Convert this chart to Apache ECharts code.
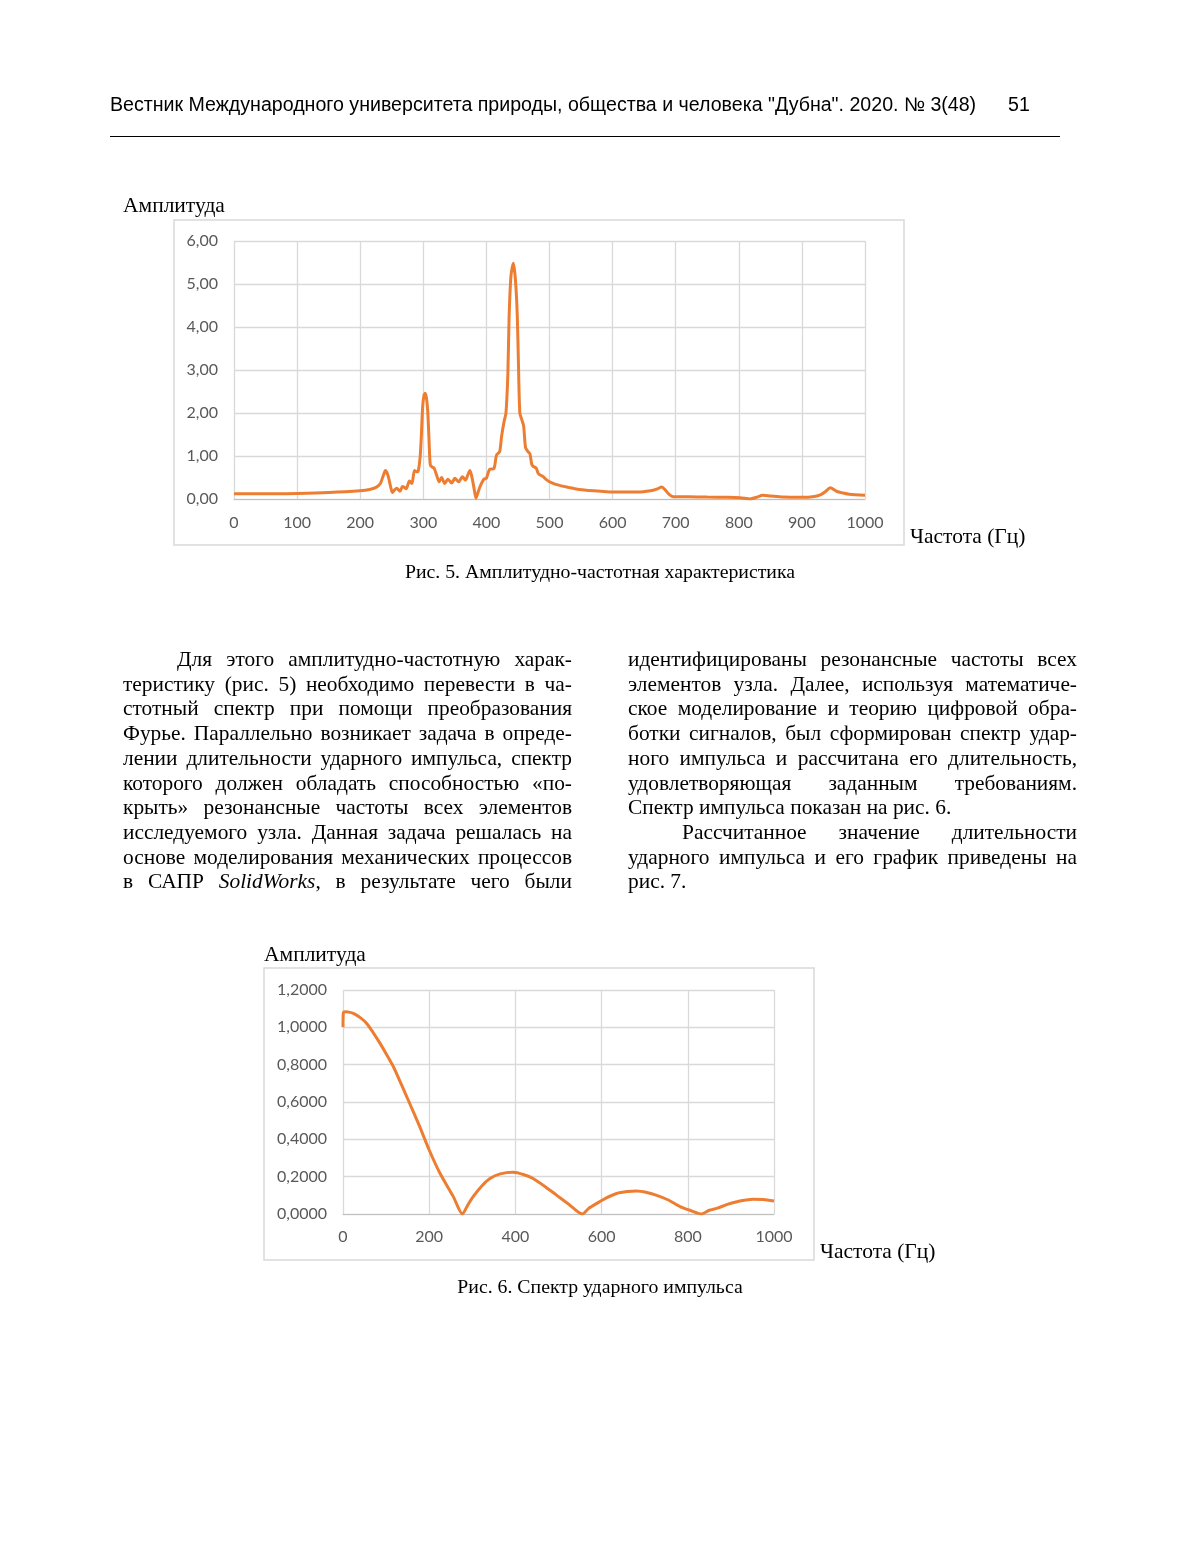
<!DOCTYPE html>
<html><head><meta charset="utf-8">
<script src="https://cdn.jsdelivr.net/npm/echarts@6/dist/echarts.min.js"></script>
<style>
html,body{margin:0;padding:0;background:#fff;}
#page{position:relative;width:1200px;height:1553px;}
#chart{position:absolute;left:0;top:0;width:1200px;height:1553px;}
.hdr{position:absolute;font-family:"Liberation Sans",Arial,sans-serif;font-size:19.6px;color:#000;white-space:nowrap;}
.rule{position:absolute;left:110px;top:136px;width:950px;border-top:1.5px solid #000;}
.col{position:absolute;width:449px;font-family:"Liberation Serif","Times New Roman",serif;font-size:21.4px;line-height:24.7px;color:#000;}
.col div{text-align:justify;text-align-last:justify;white-space:nowrap;}
.col div.last{text-align-last:left;}
.col div.ind{padding-left:54px;}
</style></head>
<body><div id="page">
<div id="chart"></div>
<div class="hdr" style="left:110px;top:93px;">Вестник Международного университета природы, общества и человека "Дубна". 2020. № 3(48)</div>
<div class="hdr" style="left:1008px;top:93px;">51</div>
<div class="rule"></div>
<div class="col" style="left:123px;top:647px;">
<div class="ind">Для этого амплитудно-частотную харак-</div>
<div>теристику (рис. 5) необходимо перевести в ча-</div>
<div>стотный спектр при помощи преобразования</div>
<div>Фурье. Параллельно возникает задача в опреде-</div>
<div>лении длительности ударного импульса, спектр</div>
<div>которого должен обладать способностью «по-</div>
<div>крыть» резонансные частоты всех элементов</div>
<div>исследуемого узла. Данная задача решалась на</div>
<div>основе моделирования механических процессов</div>
<div>в САПР <i>SolidWorks</i>, в результате чего были</div>
</div>
<div class="col" style="left:628px;top:647px;">
<div>идентифицированы резонансные частоты всех</div>
<div>элементов узла. Далее, используя математиче-</div>
<div>ское моделирование и теорию цифровой обра-</div>
<div>ботки сигналов, был сформирован спектр удар-</div>
<div>ного импульса и рассчитана его длительность,</div>
<div>удовлетворяющая заданным требованиям.</div>
<div class="last">Спектр импульса показан на рис. 6.</div>
<div class="ind">Рассчитанное значение длительности</div>
<div>ударного импульса и его график приведены на</div>
<div class="last">рис. 7.</div>
</div>
</div>
<script>
// Рис. 5 — амплитудно-частотная характеристика
const freq1 = [0,50,100,150,200,215,225,232,236,240,244,248,251,255,258,263,267,270,273,278,282,286,290,292,295,297,299,301,303,305,307,309,311,314,317,321,325,329,334,339,345,350,356,362,367,371,374,378,381,383.5,386,390,396,400,405,412,416,421,424,428,431,434,436,439,442.7,446,449,451,453,456,459,462,466,469,472,475,479,482,486,490,494,498,503,510,520,530,540,555,570,590,610,640,660,670,678,684,690,696,720,750,780,802,818,828,838,850,870,900,920,930,937,945,955,965,975,1000];
const amp1 = [0.12,0.12,0.13,0.15,0.19,0.22,0.27,0.36,0.52,0.66,0.55,0.30,0.15,0.22,0.25,0.18,0.29,0.27,0.24,0.42,0.36,0.66,0.63,0.65,0.98,1.50,2.15,2.40,2.46,2.35,2.05,1.40,0.80,0.74,0.72,0.56,0.40,0.50,0.36,0.46,0.37,0.48,0.40,0.52,0.44,0.58,0.66,0.44,0.20,0.02,0.12,0.29,0.46,0.48,0.69,0.71,1.02,1.10,1.45,1.80,2.00,2.90,4.24,5.20,5.48,5.10,4.24,3.00,2.00,1.85,1.70,1.20,1.10,1.05,0.80,0.75,0.72,0.60,0.55,0.52,0.46,0.42,0.38,0.34,0.30,0.27,0.24,0.21,0.19,0.17,0.16,0.16,0.19,0.23,0.28,0.20,0.10,0.055,0.05,0.045,0.04,0.03,0.00,0.04,0.085,0.07,0.045,0.04,0.06,0.10,0.17,0.26,0.18,0.14,0.11,0.09];
// Рис. 6 — спектр ударного импульса
const freq2 = [0,1,5,12,24,40,55,70,86,101,117,132,148,163,178,200,225,256,277,290,302,320,341,365,395,420,441,470,496,525,555,570,589,610,635,660,681,705,728,755,782,805,832,850,867,890,914,935,952,975,1000];
const amp2 = [1.0,1.08,1.084,1.082,1.075,1.052,1.021,0.972,0.914,0.855,0.789,0.712,0.628,0.548,0.468,0.343,0.218,0.093,0.0,0.05,0.093,0.145,0.19,0.215,0.223,0.21,0.19,0.145,0.10,0.05,0.0,0.03,0.057,0.085,0.11,0.12,0.123,0.115,0.10,0.075,0.04,0.02,0.0,0.02,0.03,0.05,0.066,0.075,0.079,0.078,0.07];
const yTicks1 = ['0,00','1,00','2,00','3,00','4,00','5,00','6,00'];
const yTicks2 = ['0,0000','0,2000','0,4000','0,6000','0,8000','1,0000','1,2000'];

const W = 1200, H = 1553;
const orange = '#ED7D31';
const grid = '#d9d9d9';
const lblFont = 'Lato, "Open Sans", sans-serif';
const serif = '"Liberation Serif","Times New Roman",serif';

function xAx(gi, interval, margin){
  return {type:'value', gridIndex:gi, min:0, max:1000, interval:interval,
    axisLine:{show:true, lineStyle:{color:'#bfbfbf', width:1}}, axisTick:{show:false},
    axisLabel:{color:'#595959', fontSize:16, fontFamily:lblFont, margin:margin, formatter:v=>String(v)},
    splitLine:{show:true, lineStyle:{color:grid, width:1.3}}};
}
function yAx(gi, max, interval, ticks, step){
  return {type:'value', gridIndex:gi, min:0, max:max, interval:interval,
    axisLine:{show:false}, axisTick:{show:false},
    axisLabel:{color:'#595959', fontSize:16, fontFamily:lblFont, margin:16,
      formatter:v=>ticks[Math.round(v/step)]},
    splitLine:{show:true, lineStyle:{color:grid, width:1.3}}};
}
const chart = echarts.init(document.getElementById('chart'), null, {renderer:'canvas'});
chart.setOption({
  animation:false,
  grid:[
    {left:234, right:W-865, top:241, bottom:H-499},
    {left:343, right:W-774, top:990, bottom:H-1214}
  ],
  xAxis:[xAx(0,100,16), xAx(1,200,15)],
  yAxis:[yAx(0,6,1,yTicks1,1), yAx(1,1.2,0.2,yTicks2,0.2)],
  series:[
    {type:'line', xAxisIndex:0, yAxisIndex:0, data:freq1.map((f,i)=>[f,amp1[i]]), showSymbol:false, smooth:0.25,
      lineStyle:{color:orange, width:3}},
    {type:'line', xAxisIndex:1, yAxisIndex:1, data:freq2.map((f,i)=>[f,amp2[i]]), showSymbol:false, smooth:0.25,
      lineStyle:{color:orange, width:3}}
  ],
  graphic:[
    {type:'rect', shape:{x:174, y:220, width:730, height:325}, style:{fill:'none', stroke:grid, lineWidth:1.5}, z:-1},
    {type:'rect', shape:{x:264, y:968, width:550, height:292}, style:{fill:'none', stroke:grid, lineWidth:1.5}, z:-1},
    {type:'text', left:123, top:195, style:{text:'Амплитуда', font:'21.5px '+serif, fill:'#000'}},
    {type:'text', left:910, top:526, style:{text:'Частота (Гц)', font:'21.5px '+serif, fill:'#000'}},
    {type:'text', x:600, y:573, style:{text:'Рис. 5. Амплитудно-частотная характеристика', font:'19.8px '+serif, fill:'#000', textAlign:'center', textVerticalAlign:'middle'}},
    {type:'text', left:264, top:944, style:{text:'Амплитуда', font:'21.5px '+serif, fill:'#000'}},
    {type:'text', left:820, top:1241, style:{text:'Частота (Гц)', font:'21.5px '+serif, fill:'#000'}},
    {type:'text', x:600, y:1288, style:{text:'Рис. 6. Спектр ударного импульса', font:'19.8px '+serif, fill:'#000', textAlign:'center', textVerticalAlign:'middle'}}
  ]
});
</script>
</body></html>
